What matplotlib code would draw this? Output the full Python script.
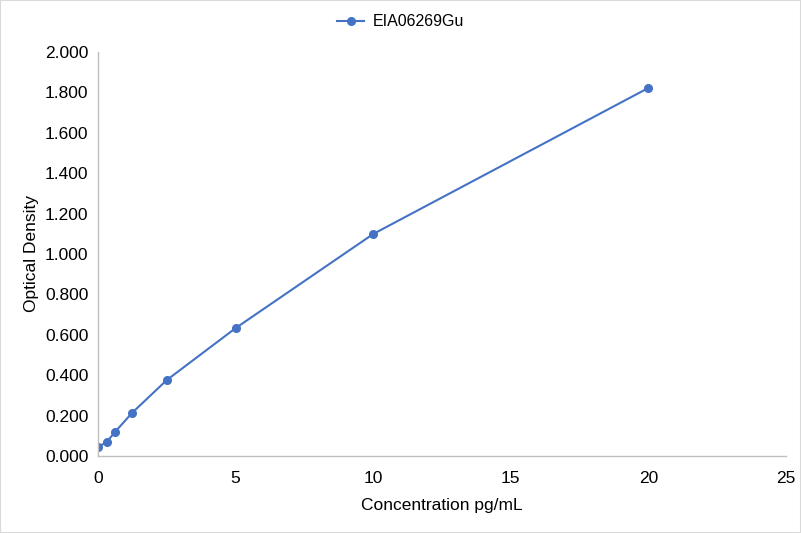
import matplotlib
matplotlib.use("Agg")
import matplotlib.pyplot as plt
from matplotlib.ticker import FormatStrFormatter

conc = [0, 0.3125, 0.625, 1.25, 2.5, 5, 10, 20]
od = [0.044, 0.069, 0.120, 0.215, 0.376, 0.633, 1.099, 1.822]
series_name = "EIA06269Gu"

plt.rcParams['font.family'] = ['Liberation Sans', 'DejaVu Sans']

fig = plt.figure(figsize=(8.01, 5.33), dpi=100)
ax = fig.add_axes([98/801, 77/533, 688/801, 404/533])
color = '#4472C4'
ax.plot(conc, od, color=color, marker='o', markersize=5.5, linewidth=1.5, label=series_name)
ax.set_xlim(0, 25)
ax.set_ylim(0, 2.0)
ax.set_xticks([0, 5, 10, 15, 20, 25])
ax.set_yticks([0, 0.2, 0.4, 0.6, 0.8, 1.0, 1.2, 1.4, 1.6, 1.8, 2.0])
ax.yaxis.set_major_formatter(FormatStrFormatter('%.3f'))
for s in ['top', 'right']:
    ax.spines[s].set_visible(False)
for s in ['left', 'bottom']:
    ax.spines[s].set_color('#BFBFBF')
    ax.spines[s].set_linewidth(1)
ax.tick_params(axis='y', length=0, labelsize=12.5, colors='#000000', pad=7)
ax.tick_params(axis='x', length=0, labelsize=12.5, colors='#000000', pad=11)
ax.set_xlabel('Concentration pg/mL', fontsize=12.5, labelpad=8.5)
ax.set_ylabel('Optical Density', fontsize=12.5, labelpad=4)
fig.legend(*ax.get_legend_handles_labels(), loc='center', bbox_to_anchor=(0.5, 1 - 22/533),
           frameon=False, fontsize=11.5, handlelength=1.7, handletextpad=0.5)

fig.patches.append(matplotlib.patches.Rectangle((0, 0), 1, 1, transform=fig.transFigure,
                   fill=False, edgecolor='#D9D9D9', linewidth=1.5))
fig.savefig('out.png', dpi=100)
